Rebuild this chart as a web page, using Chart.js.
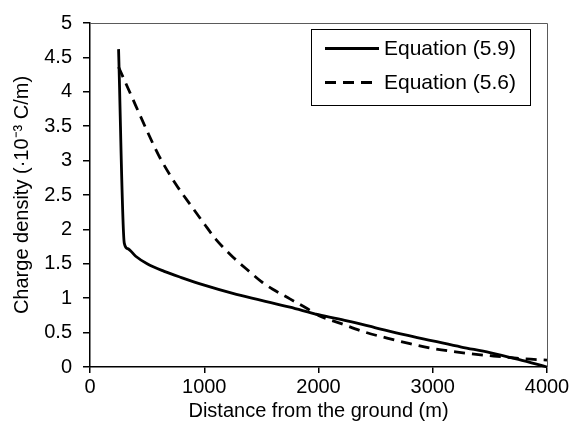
<!DOCTYPE html>
<html lang="en">
<head>
    <meta charset="UTF-8">
    <title>Charge density vs distance</title>
    <script src="https://cdn.jsdelivr.net/npm/chart.js"></script>
    <style>
        body { margin: 0; background: #fff; }
        #chartContainer { width: 574px; height: 434px; }
    </style>
</head>
<body>
    <div id="chartContainer">
        <canvas id="myChart"></canvas>
    </div>

    <script>
        // Equation (5.9) - solid line
        const distSolid = [250, 300, 330, 400, 500, 650, 800, 1000, 1250, 1500, 1750, 2000, 2250, 2500, 2750, 3000, 3250, 3500, 3750, 4000];
        const rhoSolid  = [4.62, 1.80, 1.72, 1.61, 1.50, 1.39, 1.30, 1.19, 1.07, 0.97, 0.87, 0.76, 0.67, 0.57, 0.47, 0.38, 0.29, 0.21, 0.11, 0.0];

        // Equation (5.6) - dashed line
        const distDashed = [250, 400, 500, 600, 750, 900, 1000, 1100, 1250, 1400, 1500, 1600, 1750, 1900, 2000, 2200, 2400, 2600, 2800, 3000, 3200, 3400, 3600, 3800, 4000];
        const rhoDashed  = [4.36, 3.80, 3.43, 3.08, 2.66, 2.31, 2.08, 1.86, 1.60, 1.38, 1.24, 1.13, 0.99, 0.85, 0.75, 0.63, 0.51, 0.42, 0.34, 0.27, 0.22, 0.18, 0.15, 0.12, 0.10];

        const seriesLabels = ['Equation (5.9)', 'Equation (5.6)'];
        const xTicks = [0, 1000, 2000, 3000, 4000];
        const yTicks = [0, 0.5, 1, 1.5, 2, 2.5, 3, 3.5, 4, 4.5, 5];

        const FONT = '"Liberation Sans", Arial, sans-serif';

        const toPoints = (xs, ys) => xs.map((x, i) => ({ x: x, y: ys[i] }));

        // top/right frame of the plot area
        const frame = {
            id: 'frame',
            afterDraw(chart) {
                const { ctx, chartArea: a } = chart;
                ctx.save();
                ctx.strokeStyle = '#5a5a5a';
                ctx.lineWidth = 1;
                ctx.beginPath();
                ctx.moveTo(a.left, a.top + 0.5);
                ctx.lineTo(a.right + 0.5, a.top + 0.5);
                ctx.lineTo(a.right + 0.5, a.bottom);
                ctx.stroke();
                ctx.restore();
            }
        };

        // boxed legend inside the plot
        const boxLegend = {
            id: 'boxLegend',
            afterDraw(chart) {
                const ctx = chart.ctx;
                const bx = 311.5, by = 29.5, bw = 219, bh = 76;
                ctx.save();
                ctx.strokeStyle = '#000';
                ctx.lineWidth = 1;
                ctx.strokeRect(bx, by, bw, bh);
                chart.data.datasets.forEach((ds, i) => {
                    const y = by + 19 + i * 34;
                    ctx.beginPath();
                    ctx.setLineDash(ds.borderDash || []);
                    ctx.lineWidth = ds.borderWidth;
                    ctx.strokeStyle = ds.borderColor;
                    ctx.moveTo(325, y);
                    ctx.lineTo(379, y);
                    ctx.stroke();
                    ctx.setLineDash([]);
                    ctx.fillStyle = '#000';
                    ctx.font = '21px ' + FONT;
                    ctx.textBaseline = 'middle';
                    ctx.textAlign = 'left';
                    ctx.fillText(ds.label, 384, y + 1);
                });
                ctx.restore();
            }
        };

        const ctx = document.getElementById('myChart').getContext('2d');
        const myChart = new Chart(ctx, {
            type: 'scatter',
            data: {
                datasets: [{
                    label: seriesLabels[0],
                    data: toPoints(distSolid, rhoSolid),
                    showLine: true,
                    borderColor: '#000',
                    borderWidth: 2.8,
                    pointRadius: 0,
                    cubicInterpolationMode: 'monotone',
                    clip: false
                }, {
                    label: seriesLabels[1],
                    data: toPoints(distDashed, rhoDashed),
                    showLine: true,
                    borderColor: '#000',
                    borderWidth: 2.8,
                    borderDash: [11, 7],
                    pointRadius: 0,
                    cubicInterpolationMode: 'monotone',
                    clip: false
                }]
            },
            options: {
                responsive: true,
                maintainAspectRatio: false,
                animation: false,
                layout: { padding: { left: 0, top: 13, right: 27, bottom: 0 } },
                plugins: {
                    legend: { display: false },
                    tooltip: { enabled: false }
                },
                scales: {
                    x: {
                        type: 'linear',
                        min: 0,
                        max: 4000,
                        afterBuildTicks: (s) => { s.ticks = xTicks.map(v => ({ value: v })); },
                        afterFit: (s) => { s.height = 67; },
                        ticks: {
                            color: '#000',
                            font: { family: FONT, size: 20 },
                            padding: 2,
                            maxRotation: 0,
                            callback: (v) => String(v)
                        },
                        grid: { drawOnChartArea: false, drawTicks: true, tickLength: 6, color: '#000', lineWidth: 1.5 },
                        border: { color: '#000', width: 1.5 },
                        title: {
                            display: true,
                            text: 'Distance from the ground (m)',
                            color: '#000',
                            font: { family: FONT, size: 20 },
                            padding: { top: 11, bottom: 11 }
                        }
                    },
                    y: {
                        type: 'linear',
                        min: 0,
                        max: 5,
                        afterBuildTicks: (s) => { s.ticks = yTicks.map(v => ({ value: v })); },
                        afterFit: (s) => { s.width = 90; },
                        ticks: {
                            color: '#000',
                            font: { family: FONT, size: 20 },
                            padding: 11,
                            callback: (v) => String(v)
                        },
                        grid: { drawOnChartArea: false, drawTicks: true, tickLength: 7, color: '#000', lineWidth: 1.5 },
                        border: { color: '#000', width: 1.5 },
                        title: {
                            display: true,
                            text: 'Charge density (·10⁻³ C/m)',
                            color: '#000',
                            font: { family: FONT, size: 20 },
                            padding: { top: 10, bottom: 10 }
                        }
                    }
                }
            },
            plugins: [frame, boxLegend]
        });
    </script>
</body>
</html>
